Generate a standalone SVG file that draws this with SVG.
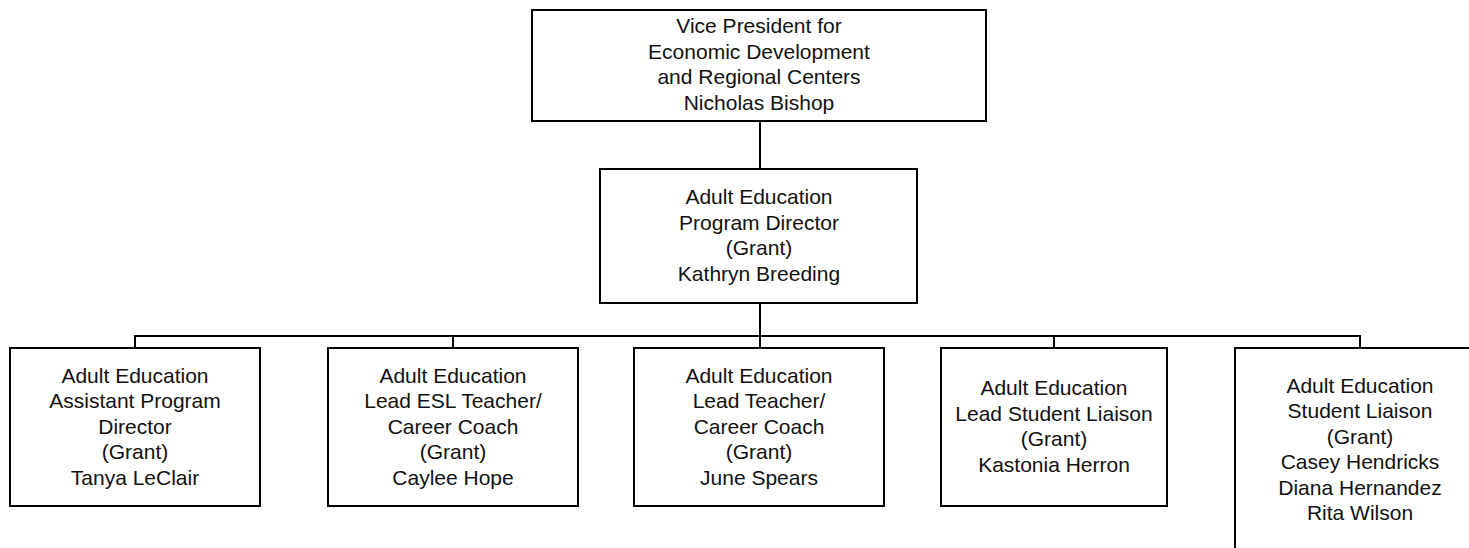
<svg xmlns="http://www.w3.org/2000/svg" width="1469" height="548" viewBox="0 0 1469 548">
<style>
.box{fill:#fff;stroke:#000;stroke-width:2}
.ln{fill:none;stroke:#000;stroke-width:2}
text{font-family:"Liberation Sans",Arial,sans-serif;font-size:21px;fill:#111;text-anchor:middle}
</style>
<rect width="1469" height="548" fill="#fff"/>
<g id="connectors">
<path class="ln" d="M760 121V169"/>
<path class="ln" d="M760 303V348"/>
<path class="ln" d="M135 348V336H1360V348"/>
<path class="ln" d="M453 336V348"/>
<path class="ln" d="M1054 336V348"/>
</g>
<g id="vp">
<rect class="box" x="532" y="10" width="454" height="111"/>
<text x="759" y="33">Vice President for</text>
<text x="759" y="59">Economic Development</text>
<text x="759" y="84">and Regional Centers</text>
<text x="759" y="110">Nicholas Bishop</text>
</g>
<g id="director">
<rect class="box" x="600" y="169" width="317" height="134"/>
<text x="759" y="204">Adult Education</text>
<text x="759" y="230">Program Director</text>
<text x="759" y="255">(Grant)</text>
<text x="759" y="281">Kathryn Breeding</text>
</g>
<g id="asst">
<rect class="box" x="10" y="348" width="250" height="158"/>
<text x="135" y="383">Adult Education</text>
<text x="135" y="408">Assistant Program</text>
<text x="135" y="434">Director</text>
<text x="135" y="459">(Grant)</text>
<text x="135" y="485">Tanya LeClair</text>
</g>
<g id="esl">
<rect class="box" x="328" y="348" width="250" height="158"/>
<text x="453" y="383">Adult Education</text>
<text x="453" y="408">Lead ESL Teacher/</text>
<text x="453" y="434">Career Coach</text>
<text x="453" y="459">(Grant)</text>
<text x="453" y="485">Caylee Hope</text>
</g>
<g id="teacher">
<rect class="box" x="634" y="348" width="250" height="158"/>
<text x="759" y="383">Adult Education</text>
<text x="759" y="408">Lead Teacher/</text>
<text x="759" y="434">Career Coach</text>
<text x="759" y="459">(Grant)</text>
<text x="759" y="485">June Spears</text>
</g>
<g id="leadliaison">
<rect class="box" x="941" y="348" width="226" height="158"/>
<text x="1054" y="395">Adult Education</text>
<text x="1054" y="421">Lead Student Liaison</text>
<text x="1054" y="446">(Grant)</text>
<text x="1054" y="472">Kastonia Herron</text>
</g>
<g id="liaison">
<rect class="box" x="1235" y="348" width="250" height="210"/>
<text x="1360" y="393">Adult Education</text>
<text x="1360" y="418">Student Liaison</text>
<text x="1360" y="444">(Grant)</text>
<text x="1360" y="469">Casey Hendricks</text>
<text x="1360" y="495">Diana Hernandez</text>
<text x="1360" y="520">Rita Wilson</text>
</g>
</svg>
